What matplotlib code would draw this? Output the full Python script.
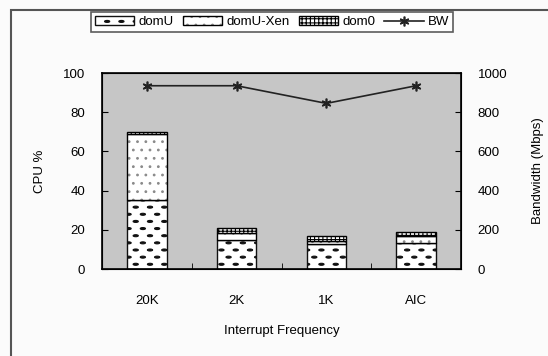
import warnings
import numpy as np
import matplotlib
matplotlib.use("Agg")
import matplotlib.pyplot as plt
import matplotlib.hatch as mhatch
from matplotlib.path import Path
from matplotlib.patches import Rectangle

warnings.filterwarnings("ignore")
plt.rcParams['font.family'] = ['Liberation Sans', 'DejaVu Sans']
plt.rcParams['hatch.linewidth'] = 0.8


# trama de guiones cortos escalonados (como la del original), caracter '_'
class DashHatch(mhatch.HatchPatternBase):
    def __init__(self, hatch, density):
        k = hatch.count('_')
        self.nr = 14 * k
        self.nc = 7 * k
        circ = Path.unit_circle()
        self.sv = circ.vertices * [0.026, 0.010]
        self.sc = circ.codes
        cnt = 0
        for r in range(self.nr + 1):
            cnt += (self.nc + 1) if r % 2 == 0 else self.nc
        self.num_vertices = cnt * len(self.sv) if k else 0

    def set_vertices_and_codes(self, vertices, codes):
        i = 0
        n = len(self.sv)
        for r in range(self.nr + 1):
            y = r / self.nr
            if r % 2 == 0:
                xs = np.linspace(0, 1, self.nc + 1)
            else:
                xs = np.linspace(0.5 / self.nc, 1 - 0.5 / self.nc, self.nc)
            for xx in xs:
                vertices[i:i + n] = self.sv + [xx, y]
                codes[i:i + n] = self.sc
                i += n


mhatch._hatch_types.append(DashHatch)

# Datos
categories = ["20K", "2K", "1K", "AIC"]
domU = [35, 15, 13, 13.5]
domU_xen = [34, 3.5, 1.5, 3.5]
dom0 = [1, 2.5, 2.5, 2]
bw = [935, 935, 845, 935]

fig = plt.figure(figsize=(5.48, 3.56), dpi=100)
fig.patch.set_facecolor("#fbfbfb")

# marco exterior (solo se ve arriba y a la izquierda)
fig.patches.append(Rectangle((11 / 548, -0.05), 1.2, 1 - 10 / 356 + 0.05,
                             transform=fig.transFigure, fill=False,
                             edgecolor="#555555", linewidth=1.5))

ax = fig.add_axes([102 / 548, 1 - 269 / 356, 359 / 548, 196 / 356])
ax.set_facecolor("#c6c6c6")
x = np.arange(len(categories))
w = 0.44
bot2 = [a + b for a, b in zip(domU, domU_xen)]

b1 = ax.bar(x, domU, w, color="white", edgecolor="#111111", hatch="_", linewidth=1)
# domU-Xen: puntos grises y borde negro aparte
b2 = ax.bar(x, domU_xen, w, bottom=domU, color="white", edgecolor="#8a8a8a",
            hatch="..", linewidth=0)
b2o = ax.bar(x, domU_xen, w, bottom=domU, fill=False, edgecolor="black", linewidth=1)
b3 = ax.bar(x, dom0, w, bottom=bot2, color="white", edgecolor="black",
            hatch="++++", linewidth=1)

ax.set_xlim(-0.5, len(categories) - 0.5)
ax.set_ylim(0, 100)
ax.set_yticks([0, 20, 40, 60, 80, 100])
ax.set_xticks(x)
ax.set_xticklabels(categories)
ax.set_xticks(x[:-1] + 0.5, minor=True)
ax.tick_params(axis="x", which="major", length=0, pad=19, labelsize=9.5)
ax.tick_params(axis="x", which="minor", direction="in", length=4)
ax.tick_params(axis="y", direction="in", length=4, pad=12, labelsize=9.5)
ax.set_ylabel("CPU %", fontsize=9.5, labelpad=12)
ax.set_xlabel("Interrupt Frequency", fontsize=9.5, labelpad=13)
for s in ax.spines.values():
    s.set_linewidth(1.2)

ax2 = ax.twinx()
l1, = ax2.plot(x, bw, color="#222222", marker=(6, 2, 0), markersize=7,
               markeredgewidth=1.2, linewidth=1.2)
ax2.set_ylim(0, 1000)
ax2.set_yticks([0, 200, 400, 600, 800, 1000])
ax2.tick_params(axis="y", direction="in", length=4, pad=12, labelsize=9.5)
ax2.set_ylabel("Bandwidth (Mbps)", fontsize=9.5, labelpad=18)

leg = fig.legend([b1, (b2, b2o), b3, l1], ["domU", "domU-Xen", "dom0", "BW"],
                 loc="center", bbox_to_anchor=(272 / 548, 1 - 22 / 356), ncol=4,
                 fontsize=9.5, frameon=True, fancybox=False, handlelength=3.0,
                 handletextpad=0.3, columnspacing=0.7, borderpad=0.3)
leg.get_frame().set_edgecolor("#333333")
leg.get_frame().set_linewidth(1.2)

fig.savefig("out.png", dpi=100)
